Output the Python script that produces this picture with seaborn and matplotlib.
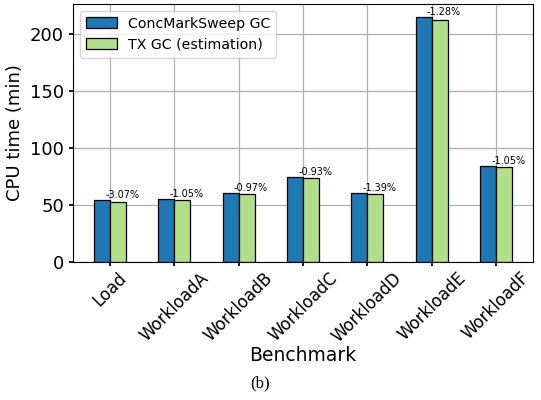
import matplotlib
matplotlib.use("Agg")
import matplotlib.pyplot as plt
import seaborn as sns
import pandas as pd

benchmarks = ["Load", "WorkloadA", "WorkloadB", "WorkloadC", "WorkloadD", "WorkloadE", "WorkloadF"]
cms_values = [54.4, 55.3, 60.3, 74.3, 60.8, 214.6, 84.5]
tx_values = [52.7, 54.7, 59.7, 73.6, 60.0, 211.9, 83.6]
pct_labels = ["-3.07%", "-1.05%", "-0.97%", "-0.93%", "-1.39%", "-1.28%", "-1.05%"]
series_names = ["ConcMarkSweep GC", "TX GC (estimation)"]
colors = ["#1f77b4", "#b2df8a"]

df = pd.DataFrame({
    "Benchmark": benchmarks * 2,
    "CPU": cms_values + tx_values,
    "Series": [series_names[0]] * len(benchmarks) + [series_names[1]] * len(benchmarks),
})

sns.set_theme(style="ticks", rc={"text.color": "black", "axes.labelcolor": "black",
                                 "xtick.color": "black", "ytick.color": "black"})
plt.rcParams["font.family"] = ["DejaVu Sans"]

fig = plt.figure(figsize=(5.41, 4.0), dpi=100)
ax = fig.add_axes([0.135, 0.345, 0.85, 0.645])

sns.barplot(data=df, x="Benchmark", y="CPU", hue="Series", palette=colors,
            width=0.5, saturation=1, edgecolor="black", linewidth=0.9,
            errorbar=None, ax=ax)

ax.set_axisbelow(True)
ax.grid(True, color="#b0b0b0", linewidth=0.9)
for s in ax.spines.values():
    s.set_color("black")
    s.set_linewidth(0.8)

for i, (v, t) in enumerate(zip(cms_values, pct_labels)):
    ax.text(i + 0.19, v, t, ha="center", va="bottom", fontsize=7, color="black")

n = len(benchmarks)
ax.set_xlim(-0.575, n - 1 + 0.575)
ax.set_ylim(0, 226)
ax.set_yticks([0, 50, 100, 150, 200])
ax.tick_params(axis="y", labelsize=13, length=3, colors="black")
ax.tick_params(axis="x", labelsize=12, length=3, colors="black", pad=2)
plt.setp(ax.get_xticklabels(), rotation=45, ha="center")
ax.set_xlabel("Benchmark", fontsize=13.5, labelpad=0)
ax.set_ylabel("CPU time (min)", fontsize=13)

leg = ax.legend(loc="upper left", fontsize=10.2, frameon=True, fancybox=True,
                handlelength=2.2, handleheight=0.8)
leg.set_title(None)

fig.text(0.48, 0.042, "(b)", ha="center", va="center", fontsize=12,
         family=["Liberation Serif", "DejaVu Serif"])

fig.savefig("out.png", dpi=100)
